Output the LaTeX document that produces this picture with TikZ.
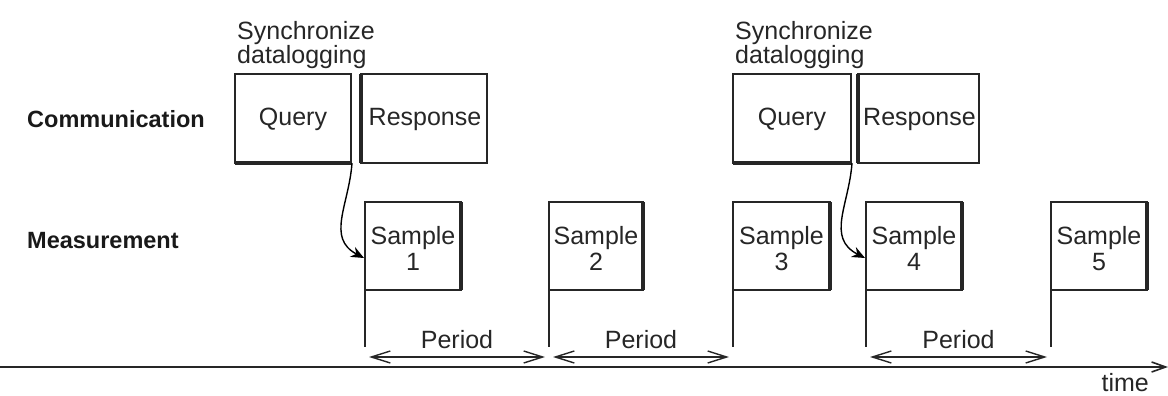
\documentclass[tikz,border=0pt]{standalone}
\usepackage{fontspec}
\setmainfont{Liberation Sans}
\usetikzlibrary{arrows.meta}
\begin{document}
\begin{tikzpicture}[x=1pt,y=-1pt,
  thin line/.style={line width=1.4pt,draw=black!85},
  thick edge/.style={line width=4pt,draw=black!85},
  txt/.style={font=\fontsize{25}{26}\selectfont,inner sep=0pt,text=black!85},
  lbl/.style={font=\fontsize{23.5}{26}\selectfont\bfseries,inner sep=0pt,text=black!90,anchor=base west},
  period/.style={thin line,{Straight Barb[length=19pt,width=12pt,line width=1.4pt]}-{Straight Barb[length=19pt,width=12pt,line width=1.4pt]}},
  sync/.style={line width=1.4pt,draw=black,-{Stealth[length=13pt,width=11pt]}}]
\useasboundingbox (0,0) rectangle (1168,396);

% row labels
\node[lbl] (comm) at (27,127) {Communication};
\node[lbl] (meas) at (27,248) {Measurement};

% communication frames: query/response pairs
\foreach \n/\ql/\qr/\rl/\rr in {1/235/351/361/487, 2/733/851/858/979}{
  \draw[thin line] (\ql,74) rectangle (\qr,163);
  \draw[thick edge] (\ql,163) -- (\qr,163);
  \node[txt,anchor=base] (q\n) at ({(\ql+\qr)/2},125) {Query};
  \draw[thin line] (\rl,74) rectangle (\rr,163);
  \draw[thick edge] (\rl,74) -- (\rl,163);
  \node[txt,anchor=base] (r\n) at ({(\rl+\rr)/2+1},125) {Response};
  \node[txt,font=\fontsize{25}{23}\selectfont,anchor=north west,align=left] (s\n) at (\ql+2,21) {Synchronize\\datalogging};
  \coordinate (qc\n) at (\qr+1,163);
}

% measurement samples
\foreach \n/\l/\r/\side in {1/365/461/l, 2/549/643/r, 3/733/830/r, 4/866/962/l, 5/1051/1147/r}{
  \draw[thin line] (\l,202) rectangle (\r,290);
  \ifx\side l
    \draw[thick edge] (\l,202) -- (\l,290);
  \else
    \draw[thick edge] (\r,202) -- (\r,290);
  \fi
  \node[txt,align=center,anchor=north] (smp\n) at ({(\l+\r)/2},226) {Sample\\\n};
  \coordinate (tick\n) at (\l,347);
  \coordinate (top\n) at (\l,285);
  \draw[thin line] (top\n) -- (tick\n);
}

% sync arrows from each query to the following sample
\coordinate (hit1) at (364,258);
\coordinate (hit2) at (865,258);
\draw[sync] (qc1) .. controls (349,205) and (326,238) .. (hit1);
\draw[sync] (qc2) .. controls (849,205) and (826,238) .. (hit2);

% sampling periods
\foreach \a/\b in {1/2,2/3,4/5}{
  \draw[period] ([xshift=4pt,yshift=-10pt]tick\a) -- node[txt,anchor=base,yshift=9pt] {Period} ([xshift=-4pt,yshift=-10pt]tick\b);
}

% time axis
\coordinate (t0) at (0,367);
\coordinate (t1) at (1168,367);
\draw[line width=2pt,draw=black!85,-{Straight Barb[length=14pt,width=10pt,line width=1.6pt]}] (t0) -- (t1);
\node[txt,anchor=base east] (time) at (1149,391) {time};
\end{tikzpicture}
\end{document}
